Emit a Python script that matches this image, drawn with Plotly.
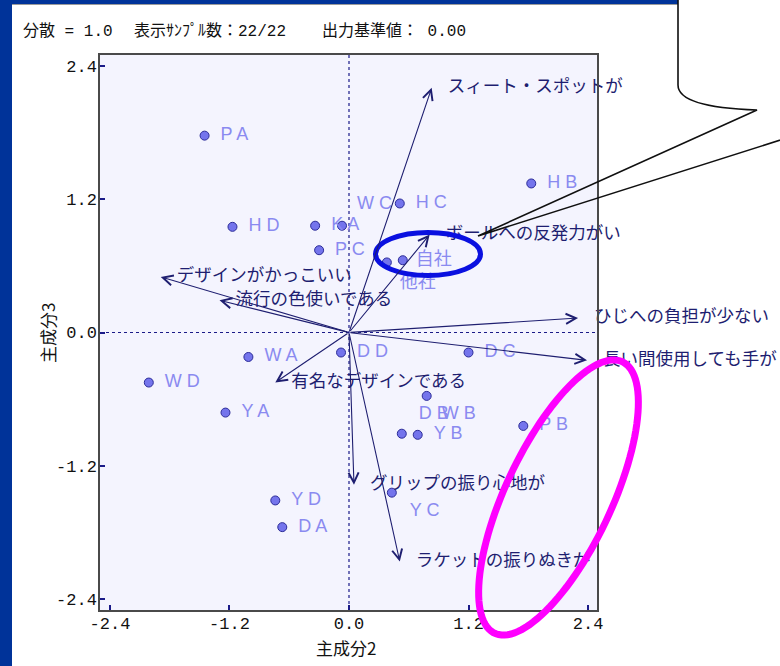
import numpy as np
import plotly.graph_objects as go

# ---- sample scores on principal components 2 and 3 ----
samples = ["PA", "HD", "KA", "WC", "PC", "HC", "HB", "他社", "自社", "DD", "DC",
           "WA", "WD", "YA", "WB", "DB", "YB", "PB", "YC", "YD", "DA"]
pc2 = [-1.45, -1.17, -0.34, -0.07, -0.30, 0.51, 1.83, 0.38, 0.54, -0.08, 1.20,
       -1.01, -2.01, -1.24, 0.78, 0.53, 0.69, 1.75, 0.43, -0.74, -0.67]
pc3 = [1.77, 0.95, 0.96, 0.96, 0.74, 1.16, 1.34, 0.63, 0.65, -0.18, -0.18,
       -0.22, -0.45, -0.72, -0.57, -0.91, -0.92, -0.84, -1.44, -1.51, -1.75]

# ---- attribute loadings (biplot vectors) ----
attributes = ["スィート・スポットが", "ボールへの反発力がい", "ひじへの負担が少ない",
              "長い間使用しても手が", "デザインがかっこいい", "流行の色使いである",
              "有名なデザインである", "グリップの振り心地が", "ラケットの振りぬきが"]
load_pc2 = [0.83, 0.81, 2.30, 2.39, -1.89, -1.30, -0.74, 0.05, 0.51]
load_pc3 = [2.20, 0.88, 0.13, -0.25, 0.50, 0.29, -0.45, -1.37, -2.06]

# ---- axis ticks ----
tick_vals = [-2.4, -1.2, 0.0, 1.2, 2.4]
tick_text = ["-2.4", "-1.2", "0.0", "1.2", "2.4"]

header = ["分散 = 1.0", "表示ｻﾝﾌﾟﾙ数：22/22", "出力基準値： 0.00"]

# ---- layout geometry (pixels) ----
W, H = 780, 666
PL, PT, PW, PH = 100, 55, 497, 555
XR = [-2.50, 2.49]
YR = [-2.495, 2.495]
PPX = PW / (XR[1] - XR[0])
PPY = PH / (YR[1] - YR[0])


def fx(xp):
    return (xp - PL) / PW


def fy(yp):
    return (PT + PH - yp) / PH


# label placement relative to each sample point (pixels, +dy = down)
default_off = (16, 0)
label_off = {"WC": (15, -21), "他社": (13, 21), "自社": (13, 0),
             "DB": (17, -19), "WB": (15, 19), "YC": (18, 19)}

NAVY = "#1e1e70"
LABEL_C = "#8a8af0"

fig = go.Figure()

# sample points
fig.add_trace(go.Scatter(
    x=pc2, y=pc3, mode="markers", cliponaxis=False,
    marker=dict(size=9, color="#7474ec", line=dict(width=1, color="#2c2c98")),
    hoverinfo="skip"))

# sample labels
lx, ly, lt = [], [], []
for name, x, y in zip(samples, pc2, pc3):
    dx, dy = label_off.get(name, default_off)
    lx.append(x + dx / PPX)
    ly.append(y - dy / PPY)
    lt.append(" ".join(name) if name.isascii() else name)
fig.add_trace(go.Scatter(
    x=lx, y=ly, mode="text", text=lt, textposition="middle right", cliponaxis=False,
    textfont=dict(family="Liberation Sans, Noto Sans CJK JP", size=18, color=LABEL_C),
    hoverinfo="skip"))

# attribute labels, anchored at the arrow tips; the transparent marker sets the gap
fig.add_trace(go.Scatter(
    x=load_pc2, y=load_pc3, mode="markers+text", cliponaxis=False,
    marker=dict(size=24, color="rgba(0,0,0,0)"),
    text=attributes, textposition="middle right",
    textfont=dict(family="Noto Sans CJK JP", size=17.5, color=NAVY),
    hoverinfo="skip"))

# attribute arrows from the origin
for x, y in zip(load_pc2, load_pc3):
    fig.add_annotation(x=x, y=y, ax=0, ay=0, xref="x", yref="y", axref="x", ayref="y",
                       text="", showarrow=True, arrowhead=5, arrowsize=1.8,
                       arrowwidth=1.1, arrowcolor=NAVY, standoff=0, startstandoff=0)

shapes = []
# dashed reference lines through the origin
shapes.append(dict(type="line", xref="x", yref="paper", x0=0, x1=0, y0=0, y1=1,
                   line=dict(color="#1a1a88", width=1.2, dash="3px,3px"), layer="below"))
shapes.append(dict(type="line", xref="paper", yref="y", x0=0, x1=1, y0=0, y1=0,
                   line=dict(color="#1a1a88", width=1.2, dash="3px,3px"), layer="below"))

# window chrome: blue bars on the left and top
shapes.append(dict(type="rect", xref="paper", yref="paper",
                   x0=fx(-2), x1=fx(12), y0=fy(H + 2), y1=fy(-2),
                   fillcolor="#003399", line=dict(width=0)))
shapes.append(dict(type="rect", xref="paper", yref="paper",
                   x0=fx(-2), x1=fx(678), y0=fy(4), y1=fy(-2),
                   fillcolor="#003399", line=dict(width=0)))
shapes.append(dict(type="line", xref="paper", yref="paper",
                   x0=fx(12), x1=fx(678), y0=fy(4.5), y1=fy(4.5),
                   line=dict(color="#9a9a9a", width=1)))

# highlight around the own-company / competitor pair
shapes.append(dict(type="circle", xref="paper", yref="paper",
                   x0=fx(375.5), x1=fx(480.5), y0=fy(275.5), y1=fy(232.5),
                   line=dict(color="#0a10e0", width=5), layer="above"))

# tilted magenta ellipse on the lower right
cx, cy, a, b, th = 558.5, 497.5, 150.0, 53.0, np.deg2rad(25.2)
u = np.array([np.sin(th), -np.cos(th)])
v = np.array([np.cos(th), np.sin(th)])
t = np.linspace(0, 2 * np.pi, 120)
ex = cx + a * np.cos(t) * u[0] + b * np.sin(t) * v[0]
ey = cy + a * np.cos(t) * u[1] + b * np.sin(t) * v[1]
path = "M " + " L ".join(f"{fx(px):.5f},{fy(py):.5f}" for px, py in zip(ex, ey)) + " Z"
shapes.append(dict(type="path", xref="paper", yref="paper", path=path,
                   line=dict(color="#ff00ff", width=7), layer="above"))

# speech-bubble outline pointing at the highlighted pair
bub = [("M", [(678, -3)]), ("L", [(678, 85)]),
       ("C", [(678, 97), (695, 108), (757, 110)]),
       ("L", [(478, 236)]), ("L", [(790, 137)])]
bpath = " ".join(cmd + " " + " ".join(f"{fx(px):.5f},{fy(py):.5f}" for px, py in pts)
                 for cmd, pts in bub)
shapes.append(dict(type="path", xref="paper", yref="paper", path=bpath,
                   line=dict(color="#101010", width=1.6), layer="above"))

# header line
for txt, x0 in zip(header, [21, 132, 320]):
    fig.add_annotation(x=fx(x0), y=fy(31), xref="paper", yref="paper", text=txt,
                       showarrow=False, xanchor="left", yanchor="middle",
                       font=dict(family="Liberation Mono, Noto Sans CJK JP", size=16,
                                 color="#111111"))

# axis titles
fig.add_annotation(x=fx(346), y=fy(647), xref="paper", yref="paper", text="主成分2",
                   showarrow=False, xanchor="center", yanchor="middle",
                   font=dict(family="Noto Sans CJK JP", size=17, color="#111111"))
fig.add_annotation(x=fx(47), y=fy(333), xref="paper", yref="paper", text="主成分3",
                   showarrow=False, xanchor="center", yanchor="middle", textangle=-90,
                   font=dict(family="Noto Sans CJK JP", size=17, color="#111111"))

axis_common = dict(
    tickvals=tick_vals, ticktext=tick_text, ticks="inside", ticklen=5,
    tickwidth=1.5, tickcolor="#1a1a88", showgrid=False, zeroline=False,
    showline=True, mirror=True, linecolor="#4a4a4a", linewidth=1.5,
    tickfont=dict(family="Liberation Mono", size=17, color="#111111"),
    automargin=False, fixedrange=True)

fig.update_layout(
    width=W, height=H, autosize=False,
    margin=dict(l=PL, r=W - PL - PW, t=PT, b=H - PT - PH, pad=0),
    paper_bgcolor="white", plot_bgcolor="#f4f4fe",
    showlegend=False, shapes=shapes,
    xaxis=dict(range=XR, ticklabelstandoff=-3, **axis_common),
    yaxis=dict(range=YR, ticklabelstandoff=-2, **axis_common),
)

fig.write_html("out.html")
